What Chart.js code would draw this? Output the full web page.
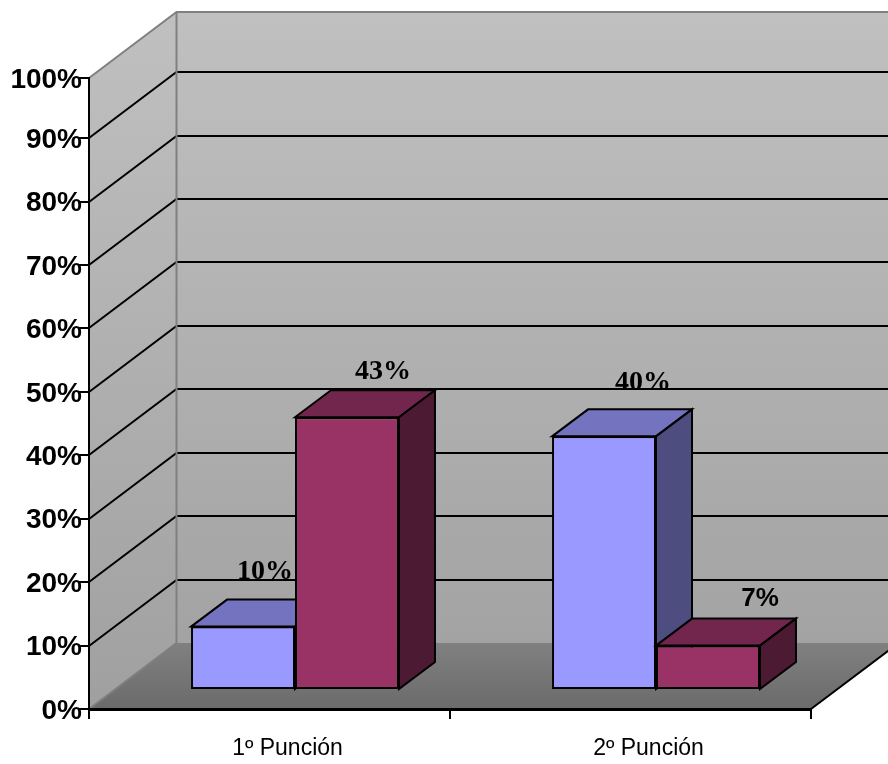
<!DOCTYPE html>
<html>
<head>
<meta charset="utf-8">
<style>
    html, body { margin: 0; padding: 0; background: #fff; }
    #wrap { width: 888px; height: 764px; }
</style>
<script src="https://cdn.jsdelivr.net/npm/chart.js@4/dist/chart.umd.min.js"></script>
</head>
<body>
<div id="wrap"><canvas id="barCanvas" width="888" height="764"></canvas></div>
<script>
const categories = ["1º Punción", "2º Punción"]
const serie1 = [10, 40]
const serie2 = [43, 7]
const yTickValues = [0, 10, 20, 30, 40, 50, 60, 70, 80, 90, 99.5]
const yTickLabels = ["0%", "10%", "20%", "30%", "40%", "50%", "60%", "70%", "80%", "90%", "100%"]

// depth of the box behind the front plane
const WALL_DX = 87.5
const WALL_DY = -66
// bars stand halfway into the floor
const BAR_SHIFT_X = 25.5
const BAR_SHIFT_Y = -19
const BAR_DX = 36
const BAR_DY = -27

const serieColors = [
    { front: "#9999FF", top: "#7373BF", side: "#4D4D80" },
    { front: "#993366", top: "#73264D", side: "#4D1A33" },
]

// labels were dragged around by hand, so each one has its own spot [dx, dy from bar top]
const labelSpots = [
    [[22, -55], [39, -54]],
    [[36, -46], [52, -47]],
]
const labelFonts = [
    ['bold 28px "Liberation Serif"', 'bold 28px "Liberation Serif"'],
    ['bold 28px "Liberation Serif"', 'bold 26px "Liberation Sans"'],
]

function poly(ctx, pts, fill, stroke, width) {
    ctx.beginPath()
    pts.forEach((p, i) => i ? ctx.lineTo(p[0], p[1]) : ctx.moveTo(p[0], p[1]))
    ctx.closePath()
    if (fill) {
        ctx.fillStyle = fill
        ctx.fill()
    }
    if (stroke) {
        ctx.strokeStyle = stroke
        ctx.lineWidth = width
        ctx.stroke()
    }
}

function line(ctx, pts, color, width) {
    ctx.beginPath()
    pts.forEach((p, i) => i ? ctx.lineTo(p[0], p[1]) : ctx.moveTo(p[0], p[1]))
    ctx.strokeStyle = color
    ctx.lineWidth = width
    ctx.stroke()
}

const box3d = {
    id: "box3d",
    beforeDraw(chart) {
        const ctx = chart.ctx
        const y = chart.scales.y
        const left = chart.chartArea.left
        const right = chart.chartArea.right
        const end = chart.width + 20
        const y0 = y.getPixelForValue(0)
        const yTop = y.getPixelForValue(99.5)
        const backX = left + WALL_DX

        const wallGrad = ctx.createLinearGradient(0, yTop + WALL_DY, 0, y0)
        wallGrad.addColorStop(0, "#C0C0C0")
        wallGrad.addColorStop(1, "#A0A0A0")
        const floorGrad = ctx.createLinearGradient(0, y0 + WALL_DY, 0, y0)
        floorGrad.addColorStop(0, "#808080")
        floorGrad.addColorStop(1, "#6B6B6B")

        ctx.save()
        poly(ctx, [[backX, yTop + WALL_DY], [end, yTop + WALL_DY], [end, y0 + WALL_DY], [backX, y0 + WALL_DY]], wallGrad)
        poly(ctx, [[left, yTop], [backX, yTop + WALL_DY], [backX, y0 + WALL_DY], [left, y0]], wallGrad)
        poly(ctx, [[left, y0], [backX, y0 + WALL_DY], [right + WALL_DX, y0 + WALL_DY], [right, y0]], floorGrad)

        // grid lines run up the side wall and along the back, snapped so they stay crisp
        y.ticks.forEach(t => {
            if (t.value === 0 || t.value === 99.5) return
            const py = Math.round(y.getPixelForValue(t.value))
            line(ctx, [[left, py], [backX, py + WALL_DY], [end, py + WALL_DY]], "#000", 2)
        })

        line(ctx, [[left, yTop], [backX, yTop + WALL_DY], [end, yTop + WALL_DY]], "#808080", 2)
        line(ctx, [[backX, yTop + WALL_DY], [backX, y0 + WALL_DY]], "#808080", 2)
        line(ctx, [[left, y0], [backX, y0 + WALL_DY]], "#808080", 2)
        line(ctx, [[right, y0], [right + WALL_DX, y0 + WALL_DY]], "#000", 2)
        ctx.restore()
    },
    // left series has to be painted first, the library would go the other way round
    beforeDatasetsDraw(chart) {
        const ctx = chart.ctx
        ctx.save()
        ctx.translate(BAR_SHIFT_X, BAR_SHIFT_Y)

        chart.data.datasets.forEach((ds, i) => {
            const colors = serieColors[i]
            chart.getDatasetMeta(i).data.forEach(bar => {
                const x1 = bar.x - bar.width / 2
                const x2 = bar.x + bar.width / 2
                poly(ctx, [[x1, bar.y], [x1 + BAR_DX, bar.y + BAR_DY], [x2 + BAR_DX, bar.y + BAR_DY], [x2, bar.y]], colors.top, "#000", 2)
                poly(ctx, [[x2, bar.y], [x2 + BAR_DX, bar.y + BAR_DY], [x2 + BAR_DX, bar.base + BAR_DY], [x2, bar.base]], colors.side, "#000", 2)
                bar.draw(ctx)
            })
        })

        ctx.textAlign = "center"
        ctx.textBaseline = "middle"
        ctx.fillStyle = "#000"
        chart.data.datasets.forEach((ds, i) => {
            chart.getDatasetMeta(i).data.forEach((bar, j) => {
                ctx.font = labelFonts[i][j]
                ctx.fillText(ds.data[j] + "%", bar.x + labelSpots[i][j][0], bar.y + labelSpots[i][j][1])
            })
        })
        ctx.restore()
        return false
    }
}

const barCanvas = document.getElementById("barCanvas")

const barChart = new Chart(barCanvas, {
    type: "bar",
    data: {
        labels: categories,
        datasets: [
            { label: "Serie 1", data: serie1, backgroundColor: serieColors[0].front, borderColor: "#000", borderWidth: 2, borderSkipped: false },
            { label: "Serie 2", data: serie2, backgroundColor: serieColors[1].front, borderColor: "#000", borderWidth: 2, borderSkipped: false },
        ]
    },
    options: {
        responsive: false,
        animation: false,
        layout: { padding: { top: 78, right: 77, left: 0, bottom: 0 } },
        plugins: { legend: { display: false }, tooltip: { enabled: false } },
        datasets: { bar: { categoryPercentage: 0.576, barPercentage: 1 } },
        scales: {
            x: {
                afterFit(scale) { scale.height = 55 },
                grid: { drawOnChartArea: false, color: "#000", lineWidth: 2, tickLength: 10 },
                border: { color: "#000", width: 3 },
                ticks: {
                    color: "#000",
                    font: { family: '"Liberation Sans"', size: 23 },
                    labelOffset: 18,
                    padding: 16,
                    maxRotation: 0,
                }
            },
            y: {
                min: 0,
                max: 99.5,
                afterFit(scale) { scale.width = 89 },
                afterBuildTicks(scale) { scale.ticks = yTickValues.map(value => ({ value })) },
                grid: { drawOnChartArea: false, color: "#000", lineWidth: 2, tickLength: 10 },
                border: { color: "#000", width: 2 },
                ticks: {
                    color: "#000",
                    font: { family: '"Liberation Sans"', size: 28, weight: "bold" },
                    padding: -3,
                    labelOffset: 2,
                    autoSkip: false,
                    callback: (value, index) => yTickLabels[index],
                }
            }
        }
    },
    plugins: [box3d]
})
</script>
</body>
</html>
